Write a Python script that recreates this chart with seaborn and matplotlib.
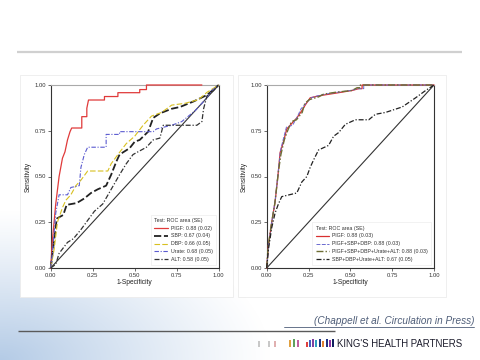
import numpy as np
import pandas as pd
import matplotlib
matplotlib.use("Agg")
import matplotlib.pyplot as plt
from matplotlib.patches import Rectangle
import seaborn as sns

sns.set_style("white")
plt.rcParams['font.family'] = ['Liberation Sans', 'DejaVu Sans']

# ---------------- data ----------------
ticks = [0.0, 0.25, 0.5, 0.75, 1.0]
tick_labels = ["0.00", "0.25", "0.50", "0.75", "1.00"]

legend_title = "Test: ROC area (SE)"

# Left panel
l_plgf_x = [0, 0.01, 0.03, 0.05, 0.07, 0.085, 0.10, 0.115, 0.125, 0.185, 0.185, 0.215, 0.215, 0.225, 0.32, 0.32, 0.40, 0.40, 0.53, 0.53, 0.57, 0.57, 0.90]
l_plgf_y = [0, 0.15, 0.35, 0.50, 0.60, 0.635, 0.70, 0.745, 0.765, 0.765, 0.827, 0.827, 0.873, 0.918, 0.918, 0.937, 0.937, 0.958, 0.958, 0.975, 0.975, 1.0, 1.0]
l_sbp_x = [0, 0.015, 0.036, 0.075, 0.095, 0.155, 0.20, 0.24, 0.28, 0.33, 0.36, 0.39, 0.41, 0.47, 0.50, 0.53, 0.58, 0.61, 0.65, 0.72, 0.77, 0.85, 0.93, 1.0]
l_sbp_y = [0, 0.11, 0.27, 0.29, 0.345, 0.355, 0.38, 0.41, 0.43, 0.45, 0.51, 0.58, 0.62, 0.655, 0.69, 0.70, 0.745, 0.82, 0.845, 0.87, 0.88, 0.91, 0.945, 1.0]
l_dbp_x = [0, 0.02, 0.04, 0.07, 0.09, 0.12, 0.15, 0.18, 0.22, 0.34, 0.36, 0.40, 0.45, 0.50, 0.55, 0.60, 0.66, 0.72, 0.80, 0.88, 0.93, 1.0]
l_dbp_y = [0, 0.10, 0.25, 0.33, 0.37, 0.40, 0.45, 0.48, 0.53, 0.53, 0.57, 0.62, 0.68, 0.72, 0.78, 0.83, 0.85, 0.89, 0.90, 0.92, 0.96, 1.0]
l_urate_x = [0, 0.01, 0.03, 0.05, 0.10, 0.12, 0.17, 0.18, 0.20, 0.22, 0.33, 0.33, 0.41, 0.41, 0.61, 0.63, 0.72, 0.78, 0.86, 0.92, 0.96, 1.0]
l_urate_y = [0, 0.08, 0.30, 0.40, 0.40, 0.44, 0.45, 0.55, 0.62, 0.66, 0.66, 0.73, 0.73, 0.745, 0.745, 0.76, 0.78, 0.80, 0.86, 0.92, 0.97, 1.0]
l_alt_x = [0, 0.03, 0.05, 0.075, 0.10, 0.135, 0.18, 0.22, 0.26, 0.31, 0.36, 0.41, 0.45, 0.49, 0.57, 0.61, 0.65, 0.67, 0.87, 0.90, 0.91, 0.93, 0.97, 1.0]
l_alt_y = [0, 0.02, 0.08, 0.11, 0.14, 0.16, 0.21, 0.26, 0.31, 0.35, 0.43, 0.51, 0.57, 0.62, 0.66, 0.70, 0.71, 0.78, 0.78, 0.80, 0.87, 0.94, 0.97, 1.0]
left_labels = ["PlGF: 0.88 (0.02)", "SBP: 0.67 (0.04)", "DBP: 0.66 (0.05)",
               "Urate: 0.68 (0.05)", "ALT: 0.58 (0.05)"]

# Right panel
r_plgf_x = [0, 0.01, 0.03, 0.05, 0.07, 0.08, 0.10, 0.12, 0.15, 0.18, 0.21, 0.23, 0.26, 0.31, 0.34, 0.41, 0.51, 0.55, 0.57, 0.57, 1.0]
r_plgf_y = [0, 0.12, 0.25, 0.36, 0.53, 0.63, 0.69, 0.76, 0.79, 0.82, 0.86, 0.89, 0.93, 0.94, 0.945, 0.955, 0.97, 0.98, 0.98, 1.0, 1.0]
r_c3_x = [0, 0.012, 0.032, 0.052, 0.068, 0.082, 0.098, 0.118, 0.155, 0.185, 0.205, 0.235, 0.265, 0.30, 0.35, 0.42, 0.50, 0.55, 0.58, 0.58, 1.0]
r_c3_y = [0, 0.13, 0.26, 0.38, 0.52, 0.64, 0.70, 0.77, 0.78, 0.83, 0.87, 0.90, 0.93, 0.94, 0.95, 0.96, 0.97, 0.98, 0.98, 1.0, 1.0]
r_c5_x = [0, 0.008, 0.028, 0.048, 0.072, 0.085, 0.105, 0.125, 0.148, 0.178, 0.212, 0.228, 0.255, 0.31, 0.34, 0.41, 0.51, 0.54, 0.56, 0.56, 1.0]
r_c5_y = [0, 0.11, 0.24, 0.35, 0.54, 0.62, 0.70, 0.75, 0.80, 0.81, 0.85, 0.90, 0.92, 0.935, 0.95, 0.96, 0.97, 0.985, 0.985, 1.0, 1.0]
r_c4_x = [0, 0.01, 0.03, 0.05, 0.07, 0.09, 0.18, 0.19, 0.21, 0.24, 0.26, 0.28, 0.31, 0.37, 0.40, 0.43, 0.47, 0.53, 0.61, 0.65, 0.71, 0.81, 0.89, 0.95, 1.0]
r_c4_y = [0, 0.10, 0.22, 0.30, 0.35, 0.39, 0.41, 0.43, 0.47, 0.50, 0.55, 0.59, 0.645, 0.67, 0.72, 0.74, 0.785, 0.81, 0.81, 0.84, 0.85, 0.88, 0.93, 0.97, 1.0]
right_labels = ["PlGF: 0.88 (0.03)", "PlGF+SBP+DBP: 0.88 (0.03)",
                "PlGF+SBP+DBP+Urate+ALT: 0.88 (0.03)", "SBP+DBP+Urate+ALT: 0.67 (0.05)"]

diag = [0.0, 1.0]


def long_form(xs, ys, labels):
    frames = []
    for x, y, lab in zip(xs, ys, labels):
        frames.append(pd.DataFrame({"fpr": x, "tpr": y, "curve": lab,
                                    "order": np.arange(len(x))}))
    return pd.concat(frames, ignore_index=True)


left_df = long_form([l_plgf_x, l_sbp_x, l_dbp_x, l_urate_x, l_alt_x],
                    [l_plgf_y, l_sbp_y, l_dbp_y, l_urate_y, l_alt_y], left_labels)
right_df = long_form([r_plgf_x, r_c3_x, r_c5_x, r_c4_x],
                     [r_plgf_y, r_c3_y, r_c5_y, r_c4_y], right_labels)

left_pal = dict(zip(left_labels, ["#e03a3a", "#222222", "#d8c020", "#5b5bd0", "#333333"]))
left_dash = dict(zip(left_labels, ["", (4, 1.5), (5, 2), (4, 1.5, 1, 1.5), (4, 1.5, 1, 1.5)]))
left_lw = [0.9, 1.3, 0.8, 0.8, 0.9]
right_pal = dict(zip(right_labels, ["#d83030", "#6a6ad0", "#6e6e34", "#222222"]))
right_dash = dict(zip(right_labels, ["", (4, 1.5), (5, 1.5, 1, 1.5), (4, 1.5, 1, 1.5)]))
right_lw = [0.9, 0.7, 1.0, 0.9]

# ---------------- figure ----------------
W, H = 480, 360
fig = plt.figure(figsize=(W / 100, H / 100), dpi=100)

# slide background
bg = fig.add_axes([0, 0, 1, 1], zorder=-10)
yy, xx = np.mgrid[0:H, 0:W]
w = np.clip(1 - np.sqrt((xx / 270.0) ** 2 + ((H - yy) / 150.0) ** 2), 0, 1) ** 1.1
blue = np.array([180, 203, 230]) / 255.0
img = np.ones((H, W, 3)) * (1 - w[..., None]) + blue[None, None, :] * w[..., None]
bg.imshow(img, extent=[0, W, H, 0], aspect="auto")
bg.set_xlim(0, W)
bg.set_ylim(H, 0)
bg.axis("off")

# top line
bg.plot([17, 462], [52, 52], color="#d0d0d0", lw=1.6, solid_capstyle="butt")
# chart image backgrounds
bg.add_patch(Rectangle((20, 75), 213, 222, fc="white", ec="#ececec", lw=0.6))
bg.add_patch(Rectangle((238, 75), 208, 222, fc="white", ec="#ececec", lw=0.6))
# bottom rule
bg.plot([18, 335], [330.5, 330.5], color="#5a5a5a", lw=1.0, solid_capstyle="butt")
# citation
bg.text(474, 323.5, "(Chappell et al. Circulation in Press)", fontsize=7.2,
        style="italic", color="#4e5d78", ha="right", va="baseline")
bg.plot([284, 474], [326.5, 326.5], color="#4e5d78", lw=0.6)
# logo
logo_x = [258, 268, 274, 289, 293, 297, 306, 309, 312, 315, 319, 322, 326, 329, 332]
logo_c = ["#c8c8c8", "#c8c8c8", "#e0b0b0", "#e0a040", "#60a060", "#c060a0", "#e04040",
          "#4060c0", "#8040a0", "#30a0c0", "#203080", "#e08030", "#203080", "#9030a0", "#102060"]
logo_h = [6, 6, 6, 7, 8, 7, 5, 7, 8, 7, 8, 6, 8, 7, 8]
for lx, lc, lh in zip(logo_x, logo_c, logo_h):
    bg.add_patch(Rectangle((lx, 347 - lh), 1.8, lh, fc=lc, ec="none"))
bg.text(337, 347, "KING'S HEALTH PARTNERS", fontsize=6.9, color="#1a1a2a",
        ha="left", va="baseline")


def style_axes(ax):
    ax.set_xlim(0, 1)
    ax.set_ylim(0, 1)
    ax.set_xticks(ticks)
    ax.set_yticks(ticks)
    ax.set_xticklabels(tick_labels)
    ax.set_yticklabels(tick_labels)
    ax.tick_params(axis="both", which="both", direction="out", length=2, width=0.5,
                   labelsize=4.2, pad=1.5, colors="#333333", left=True, bottom=True)
    for s in ["left", "bottom", "right"]:
        ax.spines[s].set_color("#333333")
        ax.spines[s].set_linewidth(0.8)
    ax.spines["top"].set_color("#aaaaaa")
    ax.spines["top"].set_linewidth(0.8)
    ax.set_xlabel("1-Specificity", fontsize=4.8, labelpad=1, color="#222222")
    ax.set_ylabel("Sensitivity", fontsize=4.8, labelpad=2, color="#222222")
    ax.set_facecolor("white")


axL = fig.add_axes([50.7 / W, (H - 268) / H, 168 / W, 183 / H])
axR = fig.add_axes([266.7 / W, (H - 268) / H, 167.3 / W, 183 / H])

for ax, df, pal, dash, labels, lws in [
        (axL, left_df, left_pal, left_dash, left_labels, left_lw),
        (axR, right_df, right_pal, right_dash, right_labels, right_lw)]:
    sns.lineplot(x=diag, y=diag, ax=ax, color="#333333", lw=0.8, legend=False)
    for lab, lw in zip(labels, lws):
        sub = df[df["curve"] == lab]
        sns.lineplot(data=sub, x="fpr", y="tpr", hue="curve", style="curve",
                     palette=pal, dashes={lab: dash[lab]}, sort=False,
                     estimator=None, ax=ax, lw=lw, legend="auto", zorder=3,
                     clip_on=False)
    style_axes(ax)
    handles, labs = ax.get_legend_handles_labels()
    leg = ax.legend(handles, labs, title=legend_title, loc="lower right",
                    bbox_to_anchor=(1.0, 0.0), fontsize=3.8, title_fontsize=3.8,
                    frameon=True, fancybox=False, framealpha=1, edgecolor="#e8e8e8",
                    handlelength=2.6, handletextpad=0.6, labelspacing=0.55,
                    borderpad=0.6, alignment="left")
    leg.set_zorder(5)
    leg.get_frame().set_linewidth(0.4)
    for t in leg.get_texts():
        t.set_color("#333333")
    leg.get_title().set_color("#333333")

fig.savefig("out.png", dpi=100)
